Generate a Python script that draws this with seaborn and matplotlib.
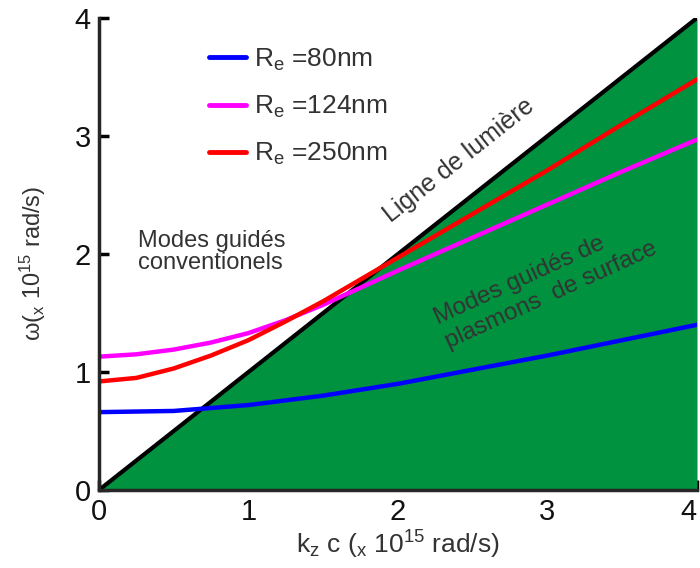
import numpy as np
import pandas as pd
import matplotlib
matplotlib.use("Agg")
import matplotlib.pyplot as plt
import seaborn as sns

# Data
kz_blue = [0.0, 0.5, 1.0, 1.5, 2.0, 2.5, 3.0, 3.5, 4.0]
w_80 = [0.66, 0.67, 0.72, 0.80, 0.90, 1.02, 1.14, 1.27, 1.40]

kz_pink = [0.0, 0.25, 0.5, 0.75, 1.0, 1.25, 1.5, 2.0, 2.5, 3.0, 3.5, 4.0]
w_124 = [1.13, 1.15, 1.19, 1.25, 1.33, 1.44, 1.57, 1.86, 2.14, 2.42, 2.70, 2.97]

kz_red = [0.0, 0.25, 0.5, 0.75, 1.0, 1.25, 1.5, 2.0, 2.5, 3.0, 3.5, 4.0]
w_250 = [0.92, 0.95, 1.03, 1.14, 1.27, 1.43, 1.60, 1.97, 2.34, 2.71, 3.10, 3.48]

light_x = [0.0, 4.0]
light_y = [0.0, 4.0]

labels = [r"R$_\mathregular{e}$ =80nm", r"R$_\mathregular{e}$ =124nm", r"R$_\mathregular{e}$ =250nm"]
colors = ["#0000ff", "#ff00ff", "#ff0000"]
ticks = [0, 1, 2, 3, 4]

df = pd.concat([
    pd.DataFrame({"kz": kz_blue, "w": w_80, "R": labels[0]}),
    pd.DataFrame({"kz": kz_pink, "w": w_124, "R": labels[1]}),
    pd.DataFrame({"kz": kz_red, "w": w_250, "R": labels[2]}),
])

sns.set_style("ticks")
plt.rcParams["font.family"] = ["Liberation Sans", "DejaVu Sans"]
plt.rcParams["mathtext.fontset"] = "custom"
plt.rcParams["mathtext.rm"] = "Liberation Sans"
plt.rcParams["mathtext.it"] = "Liberation Sans"

fig = plt.figure(figsize=(7.0, 5.68), dpi=100)
ax = fig.add_axes([0.1414, 0.1373, 0.8543, 0.831])

green = "#00923f"
ax.fill_between(light_x, light_y, 0, color=green, zorder=1, linewidth=0)
sns.lineplot(x=light_x, y=light_y, color="black", linewidth=3, ax=ax, zorder=3)

sns.lineplot(data=df, x="kz", y="w", hue="R", palette=colors, linewidth=3.2,
             ax=ax, zorder=4, sort=False)

ax.set_xlim(0, 4)
ax.set_ylim(0, 4)
ax.set_xticks(ticks)
ax.set_yticks(ticks)
ax.set_xticklabels([str(t) for t in ticks])
ax.set_yticklabels([str(t) for t in ticks])
ax.tick_params(direction="in", length=7, width=2.5, labelsize=21, colors="black",
               labelcolor="#111111", pad=6)
ax.get_xticklabels()[-1].set_horizontalalignment("right")
for s in ["top", "right"]:
    ax.spines[s].set_visible(False)
for s in ["left", "bottom"]:
    ax.spines[s].set_linewidth(2.5)
    ax.spines[s].set_zorder(5)

txt = "#333333"
ax.set_xlabel(r"k$_\mathregular{z}$ c ($_\mathregular{x}$ 10$^\mathregular{15}$ rad/s)",
              fontsize=19, color=txt, labelpad=2)
ax.set_ylabel(r"ω($_\mathregular{x}$ 10$^\mathregular{15}$ rad/s)",
              fontsize=17, color=txt)
ax.yaxis.set_label_coords(-0.085, 0.48)

leg = ax.legend(loc="upper left", bbox_to_anchor=(0.145, 0.99), frameon=False,
                fontsize=19, handlelength=1.4, handletextpad=0.3,
                labelspacing=0.8, labelcolor=txt)
for line in leg.get_lines():
    line.set_linewidth(3.5)

ax.text(2.41, 2.79, "Ligne de lumière", rotation=38.3, fontsize=18,
        color=txt, ha="center", va="center", rotation_mode="anchor")
ax.text(2.29, 1.35, "Modes guidés de\nplasmons  de surface", rotation=24.5,
        fontsize=17.5, color=txt, ha="left", va="center", rotation_mode="anchor",
        multialignment="left", linespacing=1.25)
ax.text(0.26, 2.02, "Modes guidés\nconventionels", fontsize=17, color=txt,
        ha="left", va="center", linespacing=1.0)

fig.savefig("out.png", dpi=100)
